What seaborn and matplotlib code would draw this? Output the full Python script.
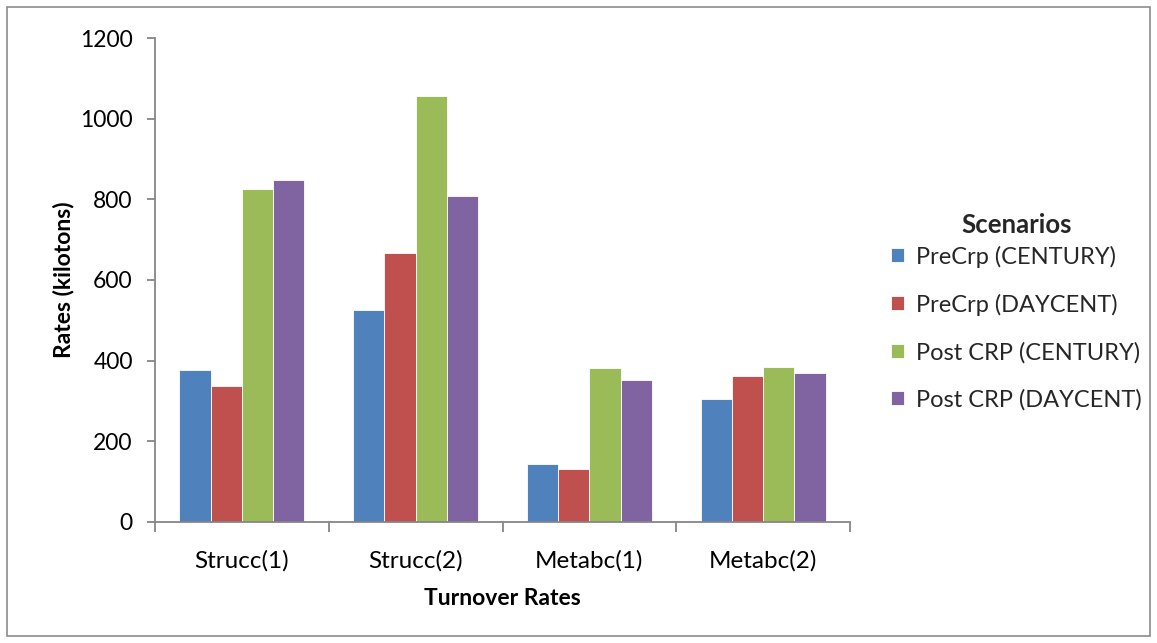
import matplotlib
matplotlib.use("Agg")
import matplotlib.pyplot as plt
import seaborn as sns
import pandas as pd
from matplotlib.patches import Rectangle

# Turnover rates per pool and scenario (kilotons)
categories = ["Strucc(1)", "Strucc(2)", "Metabc(1)", "Metabc(2)"]
scenarios = ["PreCrp (CENTURY)", "PreCrp (DAYCENT)", "Post CRP (CENTURY)", "Post CRP (DAYCENT)"]
precrp_century = [378, 525, 143, 305]
precrp_daycent = [337, 668, 132, 362]
postcrp_century = [825, 1055, 383, 385]
postcrp_daycent = [848, 809, 352, 369]
colors = ["#4F81BD", "#C0504D", "#9BBB59", "#8064A2"]
y_ticks = [0, 200, 400, 600, 800, 1000, 1200]

series = [precrp_century, precrp_daycent, postcrp_century, postcrp_daycent]
df = pd.DataFrame(
    [(c, s, v) for s, vals in zip(scenarios, series) for c, v in zip(categories, vals)],
    columns=["Turnover", "Scenario", "Rate"],
)

sns.set_theme(style="white")
plt.rcParams["font.family"] = ["Lato", "DejaVu Sans"]

fig = plt.figure(figsize=(11.57, 6.43), dpi=100)
ax = fig.add_axes([0.134, 0.1882, 0.6007, 0.7527])

sns.barplot(
    data=df, x="Turnover", y="Rate", hue="Scenario",
    order=categories, hue_order=scenarios, palette=colors,
    width=0.72, saturation=1, edgecolor="white", linewidth=0.6,
    ax=ax,
)

ax.set_ylim(0, 1200)
ax.set_xlim(-0.5, len(categories) - 0.5)
ax.set_yticks(y_ticks)
ax.set_yticklabels([str(t) for t in y_ticks])

axis_gray = "#868686"
for side in ["top", "right"]:
    ax.spines[side].set_visible(False)
for side in ["left", "bottom"]:
    ax.spines[side].set_color(axis_gray)
    ax.spines[side].set_linewidth(1.3)

# category separators as x tick marks, labels centred on the groups
ax.set_xticks([i - 0.5 for i in range(len(categories) + 1)], minor=True)
ax.tick_params(axis="x", which="minor", length=7, width=1.3, color=axis_gray, direction="out", bottom=True)
ax.tick_params(axis="x", which="major", length=0, labelsize=17.5, pad=20, colors="black")
ax.tick_params(axis="y", which="major", length=6, width=1.3, color=axis_gray, direction="out", left=True,
               labelsize=16.5, pad=10, labelcolor="black")

ax.set_xlabel("Turnover Rates", fontsize=16.5, fontweight="bold", labelpad=12, color="black")
ax.set_ylabel("Rates (kilotons)", fontsize=16.5, fontweight="bold", labelpad=4, color="black")

handles, labels = ax.get_legend_handles_labels()
leg = ax.legend(
    handles, labels, title="Scenarios",
    loc="center left", bbox_to_anchor=(0.752, 0.515), bbox_transform=fig.transFigure,
    frameon=False, fontsize=17, title_fontproperties={"weight": "bold", "size": 18.5},
    handlelength=0.55, handleheight=0.55, handletextpad=0.5, labelspacing=1.1,
)
# tighter gap between the legend title and the first entry
leg._legend_box.sep = 6

# chart frame
fig.patches.append(Rectangle((0.006, 0.011), 0.988, 0.978, transform=fig.transFigure,
                             fill=False, edgecolor="#8c8c8c", linewidth=1.2))

fig.savefig("out.png", dpi=100, facecolor="white")
